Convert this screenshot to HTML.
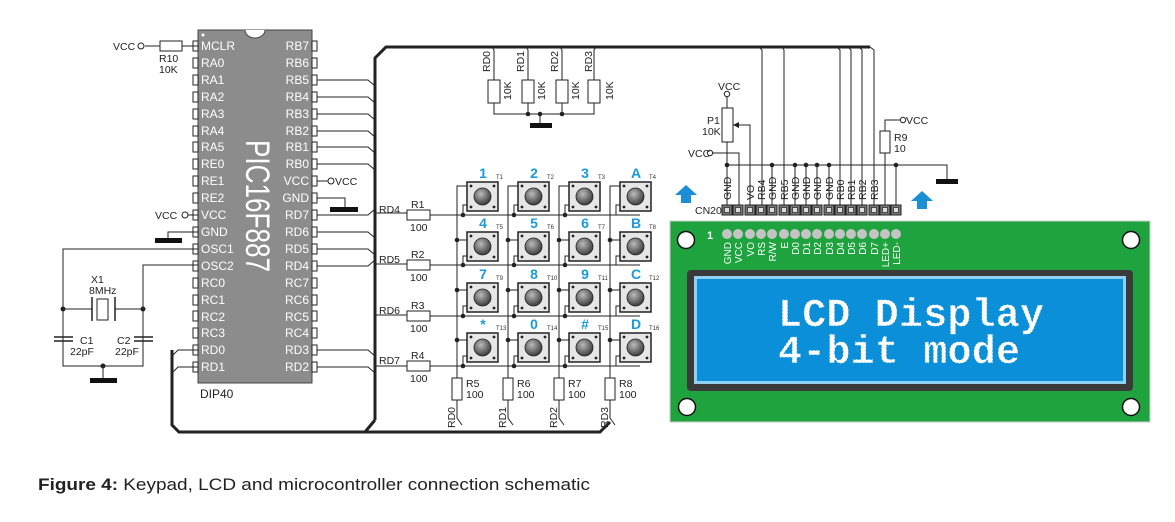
<!DOCTYPE html>
<html><head><meta charset="utf-8"><style>
body{margin:0;background:#fff;width:1175px;height:522px;overflow:hidden}
svg{display:block;font-family:"Liberation Sans",sans-serif}
</style></head><body>
<svg width="1175" height="522" viewBox="0 0 1175 522" xmlns="http://www.w3.org/2000/svg">
<defs>
<radialGradient id="bg" cx="40%" cy="35%" r="70%"><stop offset="0" stop-color="#bbb"/><stop offset="1" stop-color="#333"/></radialGradient>
<g id="btn">
<rect x="0" y="0" width="31" height="29" fill="#e6e6e6" stroke="#222" stroke-width="1.5"/>
<circle cx="15.5" cy="14.5" r="8.5" fill="url(#bg)" stroke="#222" stroke-width="0.8"/>
<circle cx="4" cy="4" r="1.4" fill="#222"/><circle cx="27" cy="4" r="1.4" fill="#222"/>
<circle cx="4" cy="25" r="1.4" fill="#222"/><circle cx="27" cy="25" r="1.4" fill="#222"/>
</g>
<g id="pinl"><rect x="-5" y="-5" width="5" height="10" fill="#fff" stroke="#222" stroke-width="1"/></g>
<g id="cn"><rect x="-5" y="-5" width="10" height="10" fill="#777" stroke="#222"/><rect x="-2.5" y="-2.5" width="5" height="5" fill="#ddd" stroke="#222" stroke-width="0.7"/></g>
</defs>

<!-- buses -->
<g fill="none" stroke="#222" stroke-width="3">
<path d="M375 420 V58 L386 47 H870"/>
<path d="M172 350 V425 L179 432 H600 L610 422"/>
<path d="M375 420 L365 432"/>
</g>

<!-- chip -->
<rect x="198" y="30" width="114" height="353" fill="#8c8c8c" stroke="#444"/>
<path d="M245 30 a10 8 0 0 0 20 0" fill="#fff" stroke="#444"/>
<circle cx="203" cy="35" r="1.5" fill="#fff"/>
<text transform="translate(246,140) rotate(90)" font-size="34" fill="#fff" textLength="132" lengthAdjust="spacingAndGlyphs">PIC16F887</text>
<g font-size="12" fill="#fff">
<text x="201" y="50">MCLR</text><text x="201" y="67">RA0</text><text x="201" y="84">RA1</text><text x="201" y="101">RA2</text><text x="201" y="118">RA3</text><text x="201" y="135">RA4</text><text x="201" y="151">RA5</text><text x="201" y="168">RE0</text><text x="201" y="185">RE1</text><text x="201" y="202">RE2</text><text x="201" y="219">VCC</text><text x="201" y="236">GND</text><text x="201" y="253">OSC1</text><text x="201" y="270">OSC2</text><text x="201" y="287">RC0</text><text x="201" y="304">RC1</text><text x="201" y="321">RC2</text><text x="201" y="337">RC3</text><text x="201" y="354">RD0</text><text x="201" y="371">RD1</text>
</g>
<g font-size="12" fill="#fff" text-anchor="end">
<text x="309" y="50">RB7</text><text x="309" y="67">RB6</text><text x="309" y="84">RB5</text><text x="309" y="101">RB4</text><text x="309" y="118">RB3</text><text x="309" y="135">RB2</text><text x="309" y="151">RB1</text><text x="309" y="168">RB0</text><text x="309" y="185">VCC</text><text x="309" y="202">GND</text><text x="309" y="219">RD7</text><text x="309" y="236">RD6</text><text x="309" y="253">RD5</text><text x="309" y="270">RD4</text><text x="309" y="287">RC7</text><text x="309" y="304">RC6</text><text x="309" y="321">RC5</text><text x="309" y="337">RC4</text><text x="309" y="354">RD3</text><text x="309" y="371">RD2</text>
</g>
<g>
<use href="#pinl" x="198" y="46"/><use href="#pinl" x="198" y="63"/><use href="#pinl" x="198" y="80"/><use href="#pinl" x="198" y="97"/><use href="#pinl" x="198" y="114"/><use href="#pinl" x="198" y="131"/><use href="#pinl" x="198" y="147"/><use href="#pinl" x="198" y="164"/><use href="#pinl" x="198" y="181"/><use href="#pinl" x="198" y="198"/><use href="#pinl" x="198" y="215"/><use href="#pinl" x="198" y="232"/><use href="#pinl" x="198" y="249"/><use href="#pinl" x="198" y="266"/><use href="#pinl" x="198" y="283"/><use href="#pinl" x="198" y="300"/><use href="#pinl" x="198" y="316"/><use href="#pinl" x="198" y="333"/><use href="#pinl" x="198" y="350"/><use href="#pinl" x="198" y="367"/>
<use href="#pinl" x="317" y="46"/><use href="#pinl" x="317" y="63"/><use href="#pinl" x="317" y="80"/><use href="#pinl" x="317" y="97"/><use href="#pinl" x="317" y="114"/><use href="#pinl" x="317" y="131"/><use href="#pinl" x="317" y="147"/><use href="#pinl" x="317" y="164"/><use href="#pinl" x="317" y="181"/><use href="#pinl" x="317" y="198"/><use href="#pinl" x="317" y="215"/><use href="#pinl" x="317" y="232"/><use href="#pinl" x="317" y="249"/><use href="#pinl" x="317" y="266"/><use href="#pinl" x="317" y="283"/><use href="#pinl" x="317" y="300"/><use href="#pinl" x="317" y="316"/><use href="#pinl" x="317" y="333"/><use href="#pinl" x="317" y="350"/><use href="#pinl" x="317" y="367"/>
</g>
<text x="200" y="398" font-size="12" fill="#222">DIP40</text>

<!-- chip wiring -->
<g fill="none" stroke="#222" stroke-width="1">
<path d="M317 80 H368 L375 86"/><path d="M317 97 H368 L375 103"/><path d="M317 114 H368 L375 120"/><path d="M317 131 H368 L375 137"/><path d="M317 147 H368 L375 153"/><path d="M317 164 H368 L375 170"/>
<path d="M317 215 H368 L375 209"/><path d="M317 232 H368 L375 238"/><path d="M317 249 H368 L375 255"/><path d="M317 266 H368 L375 260"/>
<path d="M317 350 H368 L375 356"/><path d="M317 367 H368 L375 373"/>
<path d="M198 350 H178 L172 356"/><path d="M198 367 H178 L172 373"/>
<path d="M317 181 H328"/><path d="M317 198 H345 V208"/>
<path d="M198 46 H182"/><path d="M160 46 H145"/>
<path d="M198 215 H188"/><path d="M198 232 H168 V240"/>
<path d="M198 249 H63 V366 H143 V265 H198"/>
<path d="M63 309 H92"/><path d="M115 309 H143"/>
<path d="M103 366 V378"/>
<path d="M375 213 H407"/><path d="M375 264 H407"/><path d="M375 315 H407"/><path d="M375 366 H407"/>
</g>
<rect x="330" y="207" width="28" height="5" fill="#111"/>
<rect x="155" y="238" width="27" height="5" fill="#111"/>
<rect x="90" y="378" width="27" height="5" fill="#111"/>
<circle cx="63" cy="309" r="2.5" fill="#222"/><circle cx="143" cy="309" r="2.5" fill="#222"/><circle cx="103" cy="366" r="2.5" fill="#222"/>
<circle cx="141" cy="46" r="3" fill="#fff" stroke="#222"/><circle cx="331" cy="181" r="3" fill="#fff" stroke="#222"/><circle cx="185" cy="215" r="3" fill="#fff" stroke="#222"/>
<rect x="160" y="41" width="22" height="10" fill="#fff" stroke="#222"/>
<g font-size="10.5" fill="#222">
<text x="113" y="50">VCC</text><text x="159" y="62">R10</text><text x="159" y="73">10K</text>
<text x="335" y="185">VCC</text><text x="155" y="219">VCC</text>
<text x="91" y="283">X1</text><text x="89" y="294">8MHz</text>
<text x="80" y="344">C1</text><text x="70" y="355">22pF</text>
<text x="117" y="344">C2</text><text x="115" y="355">22pF</text>
</g>
<!-- crystal -->
<g stroke="#222" fill="none"><path d="M92 297 V321 M115 297 V321" stroke-width="1.5"/><rect x="97" y="299" width="11" height="21"/>
<path d="M54 337 H73 M54 341 H73 M134 337 H153 M134 341 H153" stroke-width="1.5"/></g>

<!-- top pull-downs -->
<g fill="none" stroke="#222" stroke-width="1">
<path d="M492 47 L494 50 V114 H594 V50 L596 47"/><path d="M526 47 L528 50 V114"/><path d="M560 47 L562 50 V114"/>
<path d="M540 114 V124"/>
</g>
<g fill="#fff" stroke="#222"><rect x="488" y="80" width="12" height="23"/><rect x="522" y="80" width="12" height="23"/><rect x="556" y="80" width="12" height="23"/><rect x="588" y="80" width="12" height="23"/></g>
<circle cx="528" cy="114" r="2.3" fill="#222"/><circle cx="540" cy="114" r="2.3" fill="#222"/><circle cx="562" cy="114" r="2.3" fill="#222"/>
<rect x="530" y="123" width="22" height="5" fill="#111"/>
<g font-size="10.5" fill="#222">
<text transform="translate(490,72) rotate(-90)">RD0</text><text transform="translate(524,72) rotate(-90)">RD1</text><text transform="translate(558,72) rotate(-90)">RD2</text><text transform="translate(592,72) rotate(-90)">RD3</text>
<text transform="translate(511,100) rotate(-90)">10K</text><text transform="translate(545,100) rotate(-90)">10K</text><text transform="translate(579,100) rotate(-90)">10K</text><text transform="translate(613,100) rotate(-90)">10K</text>
</g>

<!-- keypad wiring -->
<g fill="none" stroke="#222" stroke-width="1">
<path d="M430 215 H640"/><path d="M430 265 H640"/><path d="M430 316 H640"/><path d="M430 366 H640"/>
<path d="M457 378 V186 H467"/><path d="M508 378 V186 H518"/><path d="M559 378 V186 H569"/><path d="M610 378 V186 H620"/>
<path d="M457 400 V418 L462 425"/><path d="M508 400 V418 L513 425"/><path d="M559 400 V418 L564 425"/><path d="M610 400 V418 L615 425"/>
<path d="M457 240 H467 M508 240 H518 M559 240 H569 M610 240 H620"/>
<path d="M457 290 H467 M508 290 H518 M559 290 H569 M610 290 H620"/>
<path d="M457 340 H467 M508 340 H518 M559 340 H569 M610 340 H620"/>
<path d="M467 205 H463 V215 M518 205 H514 V215 M569 205 H565 V215 M620 205 H616 V215"/>
<path d="M467 256 H463 V265 M518 256 H514 V265 M569 256 H565 V265 M620 256 H616 V265"/>
<path d="M467 306 H463 V316 M518 306 H514 V316 M569 306 H565 V316 M620 306 H616 V316"/>
<path d="M467 356 H463 V366 M518 356 H514 V366 M569 356 H565 V366 M620 356 H616 V366"/>
</g>
<g fill="#222">
<circle cx="463" cy="215" r="2.3"/><circle cx="514" cy="215" r="2.3"/><circle cx="565" cy="215" r="2.3"/>
<circle cx="463" cy="265" r="2.3"/><circle cx="514" cy="265" r="2.3"/><circle cx="565" cy="265" r="2.3"/>
<circle cx="463" cy="316" r="2.3"/><circle cx="514" cy="316" r="2.3"/><circle cx="565" cy="316" r="2.3"/>
<circle cx="463" cy="366" r="2.3"/><circle cx="514" cy="366" r="2.3"/><circle cx="565" cy="366" r="2.3"/>
<circle cx="457" cy="240" r="2.3"/><circle cx="508" cy="240" r="2.3"/><circle cx="559" cy="240" r="2.3"/><circle cx="610" cy="240" r="2.3"/>
<circle cx="457" cy="290" r="2.3"/><circle cx="508" cy="290" r="2.3"/><circle cx="559" cy="290" r="2.3"/><circle cx="610" cy="290" r="2.3"/>
<circle cx="457" cy="340" r="2.3"/><circle cx="508" cy="340" r="2.3"/><circle cx="559" cy="340" r="2.3"/><circle cx="610" cy="340" r="2.3"/>
</g>
<g fill="#fff" stroke="#222">
<rect x="407" y="210" width="23" height="10"/><rect x="407" y="260" width="23" height="10"/><rect x="407" y="311" width="23" height="10"/><rect x="407" y="361" width="23" height="10"/>
<rect x="452" y="378" width="10" height="22"/><rect x="503" y="378" width="10" height="22"/><rect x="554" y="378" width="10" height="22"/><rect x="605" y="378" width="10" height="22"/>
</g>
<g>
<use href="#btn" x="467" y="182"/><use href="#btn" x="518" y="182"/><use href="#btn" x="569" y="182"/><use href="#btn" x="620" y="182"/>
<use href="#btn" x="467" y="232"/><use href="#btn" x="518" y="232"/><use href="#btn" x="569" y="232"/><use href="#btn" x="620" y="232"/>
<use href="#btn" x="467" y="283"/><use href="#btn" x="518" y="283"/><use href="#btn" x="569" y="283"/><use href="#btn" x="620" y="283"/>
<use href="#btn" x="467" y="333"/><use href="#btn" x="518" y="333"/><use href="#btn" x="569" y="333"/><use href="#btn" x="620" y="333"/>
</g>
<g font-size="14" font-weight="bold" fill="#1a9ad9" text-anchor="middle">
<text x="483" y="178">1</text><text x="534" y="178">2</text><text x="585" y="178">3</text><text x="636" y="178">A</text>
<text x="483" y="228">4</text><text x="534" y="228">5</text><text x="585" y="228">6</text><text x="636" y="228">B</text>
<text x="483" y="279">7</text><text x="534" y="279">8</text><text x="585" y="279">9</text><text x="636" y="279">C</text>
<text x="483" y="329">*</text><text x="534" y="329">0</text><text x="585" y="329">#</text><text x="636" y="329">D</text>
</g>
<g font-size="6" fill="#333">
<text x="496" y="179">T1</text><text x="547" y="179">T2</text><text x="598" y="179">T3</text><text x="649" y="179">T4</text>
<text x="496" y="229">T5</text><text x="547" y="229">T6</text><text x="598" y="229">T7</text><text x="649" y="229">T8</text>
<text x="496" y="280">T9</text><text x="547" y="280">T10</text><text x="598" y="280">T11</text><text x="649" y="280">T12</text>
<text x="496" y="330">T13</text><text x="547" y="330">T14</text><text x="598" y="330">T15</text><text x="649" y="330">T16</text>
</g>
<g font-size="10.5" fill="#222">
<text x="379" y="213">RD4</text><text x="379" y="263">RD5</text><text x="379" y="314">RD6</text><text x="379" y="364">RD7</text>
<text x="411" y="208">R1</text><text x="411" y="258">R2</text><text x="411" y="309">R3</text><text x="411" y="359">R4</text>
<text x="410" y="231">100</text><text x="410" y="281">100</text><text x="410" y="332">100</text><text x="410" y="382">100</text>
<text x="466" y="387">R5</text><text x="517" y="387">R6</text><text x="568" y="387">R7</text><text x="619" y="387">R8</text>
<text x="466" y="398">100</text><text x="517" y="398">100</text><text x="568" y="398">100</text><text x="619" y="398">100</text>
<text transform="translate(455,428) rotate(-90)">RD0</text><text transform="translate(506,428) rotate(-90)">RD1</text><text transform="translate(557,428) rotate(-90)">RD2</text><text transform="translate(608,428) rotate(-90)">RD3</text>
</g>

<!-- LCD wiring -->
<g fill="none" stroke="#222" stroke-width="1">
<path d="M759 47 L762 50 V205"/><path d="M782 47 L784 50 V205"/>
<path d="M837 47 L840 50 V205"/><path d="M848 47 L851 50 V205"/><path d="M859 47 L862 50 V205"/><path d="M870 47 L874 50 V205"/>
<path d="M727 96 V205"/><path d="M712 153 H739 V205"/><path d="M733 125 H750 V205"/>
<path d="M727 165 H947 V180"/><path d="M772 165 V205 M795 165 V205 M806 165 V205 M817 165 V205 M829 165 V205 M896 165 V205"/>
<path d="M885 205 V120 H900"/>
</g>
<path d="M733 125 l6 -3 v6 z" fill="#222"/>
<rect x="722" y="108" width="11" height="34" fill="#fff" stroke="#222"/>
<rect x="880" y="131" width="10" height="22" fill="#fff" stroke="#222"/>
<rect x="936" y="179" width="22" height="5" fill="#111"/>
<g fill="#222"><circle cx="727" cy="165" r="2.3"/><circle cx="772" cy="165" r="2.3"/><circle cx="795" cy="165" r="2.3"/><circle cx="806" cy="165" r="2.3"/><circle cx="817" cy="165" r="2.3"/><circle cx="829" cy="165" r="2.3"/><circle cx="896" cy="165" r="2.3"/></g>
<circle cx="727" cy="94" r="2.7" fill="#fff" stroke="#222"/><circle cx="710" cy="153" r="2.7" fill="#fff" stroke="#222"/><circle cx="903" cy="120" r="2.7" fill="#fff" stroke="#222"/>
<g font-size="10.5" fill="#222">
<text x="718" y="90">VCC</text><text x="707" y="124">P1</text><text x="702" y="135">10K</text><text x="688" y="157">VCC</text>
<text x="906" y="124">VCC</text><text x="894" y="141">R9</text><text x="894" y="152">10</text>
<text x="695" y="214">CN20</text>
<text transform="translate(731,200) rotate(-90)">GND</text><text transform="translate(754,200) rotate(-90)">VO</text><text transform="translate(765,200) rotate(-90)">RB4</text><text transform="translate(776,200) rotate(-90)">GND</text><text transform="translate(788,200) rotate(-90)">RB5</text><text transform="translate(799,200) rotate(-90)">GND</text><text transform="translate(810,200) rotate(-90)">GND</text><text transform="translate(821,200) rotate(-90)">GND</text><text transform="translate(833,200) rotate(-90)">GND</text><text transform="translate(844,200) rotate(-90)">RB0</text><text transform="translate(855,200) rotate(-90)">RB1</text><text transform="translate(866,200) rotate(-90)">RB2</text><text transform="translate(878,200) rotate(-90)">RB3</text>
</g>
<g>
<use href="#cn" x="727" y="210"/><use href="#cn" x="738" y="210"/><use href="#cn" x="750" y="210"/><use href="#cn" x="761" y="210"/><use href="#cn" x="772" y="210"/><use href="#cn" x="784" y="210"/><use href="#cn" x="795" y="210"/><use href="#cn" x="806" y="210"/><use href="#cn" x="817" y="210"/><use href="#cn" x="829" y="210"/><use href="#cn" x="840" y="210"/><use href="#cn" x="851" y="210"/><use href="#cn" x="862" y="210"/><use href="#cn" x="874" y="210"/><use href="#cn" x="885" y="210"/><use href="#cn" x="896" y="210"/>
</g>
<path d="M686 185 l11 10 h-6 v8 h-10 v-8 h-6 z" fill="#1a8fd6"/>
<path d="M922 191 l11 10 h-6 v8 h-10 v-8 h-6 z" fill="#1a8fd6"/>

<!-- LCD board -->
<rect x="670" y="221" width="480" height="201" fill="#1ea33f" stroke="#ccc"/>
<circle cx="686" cy="240" r="8.5" fill="#fff" stroke="#111" stroke-width="1.5"/><circle cx="1131" cy="240" r="8.5" fill="#fff" stroke="#111" stroke-width="1.5"/>
<circle cx="687" cy="407" r="8.5" fill="#fff" stroke="#111" stroke-width="1.5"/><circle cx="1131" cy="407" r="8.5" fill="#fff" stroke="#111" stroke-width="1.5"/>
<text x="707" y="239" font-size="11" font-weight="bold" fill="#fff">1</text>
<g fill="#c4c4c4">
<circle cx="727" cy="234" r="5"/><circle cx="738" cy="234" r="5"/><circle cx="750" cy="234" r="5"/><circle cx="761" cy="234" r="5"/><circle cx="772" cy="234" r="5"/><circle cx="784" cy="234" r="5"/><circle cx="795" cy="234" r="5"/><circle cx="806" cy="234" r="5"/><circle cx="817" cy="234" r="5"/><circle cx="829" cy="234" r="5"/><circle cx="840" cy="234" r="5"/><circle cx="851" cy="234" r="5"/><circle cx="862" cy="234" r="5"/><circle cx="874" cy="234" r="5"/><circle cx="885" cy="234" r="5"/><circle cx="896" cy="234" r="5"/>
</g>
<g font-size="10" fill="#fff" text-anchor="end">
<text transform="translate(731,242) rotate(-90)">GND</text><text transform="translate(742,242) rotate(-90)">VCC</text><text transform="translate(754,242) rotate(-90)">VO</text><text transform="translate(765,242) rotate(-90)">RS</text><text transform="translate(776,242) rotate(-90)">R/W</text><text transform="translate(788,242) rotate(-90)">E</text><text transform="translate(799,242) rotate(-90)">D0</text><text transform="translate(810,242) rotate(-90)">D1</text><text transform="translate(821,242) rotate(-90)">D2</text><text transform="translate(833,242) rotate(-90)">D3</text><text transform="translate(844,242) rotate(-90)">D4</text><text transform="translate(855,242) rotate(-90)">D5</text><text transform="translate(866,242) rotate(-90)">D6</text><text transform="translate(878,242) rotate(-90)">D7</text><text transform="translate(889,242) rotate(-90)">LED+</text><text transform="translate(900,242) rotate(-90)">LED-</text>
</g>
<rect x="687" y="270" width="446" height="121" rx="4" fill="#3a3a3a"/>
<rect x="694" y="276" width="432" height="108" fill="#8fd0f5"/>
<rect x="697" y="279" width="426" height="102" fill="#0a8fd8"/>
<g font-family="Liberation Mono, monospace" font-size="40" font-weight="bold" fill="#fff" stroke="#0a8fd8" stroke-width="0.8" stroke-dasharray="2.5 1">
<text x="778" y="326" textLength="266">LCD Display</text>
<text x="778" y="363" textLength="242">4-bit mode</text>
</g>

<text x="38" y="490" font-size="17" fill="#222" textLength="552" lengthAdjust="spacingAndGlyphs"><tspan font-weight="bold">Figure 4:</tspan> Keypad, LCD and microcontroller connection schematic</text>
</svg>
</body></html>
